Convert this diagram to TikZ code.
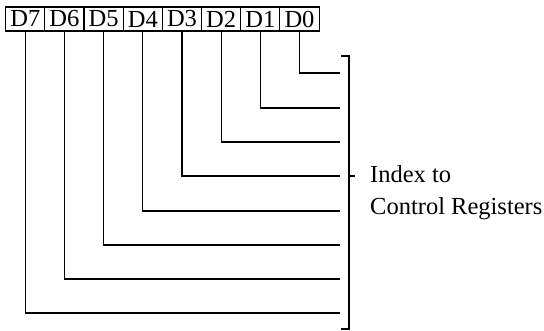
\documentclass[tikz,border=0pt]{standalone}
\usepackage{fontspec}
\setmainfont{Liberation Serif}
\begin{document}
\begin{tikzpicture}[x=1pt,y=-1pt,
  bitbox/.style={draw,line width=1.1pt,minimum width=39.2pt,minimum height=24pt,inner sep=0pt,font=\fontsize{24.5}{28}\selectfont},
  wire/.style={line width=1.2pt},
  lbl/.style={anchor=base west,inner sep=0pt,font=\fontsize{24.5}{28}\selectfont}]
\useasboundingbox (0,0) rectangle (544,331);
\foreach \i/\n in {7/0,6/1,5/2,4/3,3/4,2/5,1/6,0/7}{
  \node[bitbox] (d\i) at ({25.3+39.17*\n},19) {D\i};
}
\foreach \i/\y in {0/73,1/108,2/142,3/176,4/211,5/245,6/279,7/313}{
  \coordinate (e\i) at (340,\y);
  \draw[wire] (d\i.south) |- (e\i);
}
\coordinate (bt) at (349,56);
\coordinate (bb) at (349,329);
\coordinate (btl) at (341,56);
\coordinate (bbl) at (341,329);
\coordinate (bm) at (349,176);
\coordinate (bmr) at (355,176);
\draw[wire] (btl) -- (bt) -- (bb) -- (bbl);
\draw[wire] (bm) -- (bmr);
\node[lbl] (t1) at (370,183) {Index to};
\node[lbl] (t2) at (370,215) {Control Registers};
\end{tikzpicture}
\end{document}
